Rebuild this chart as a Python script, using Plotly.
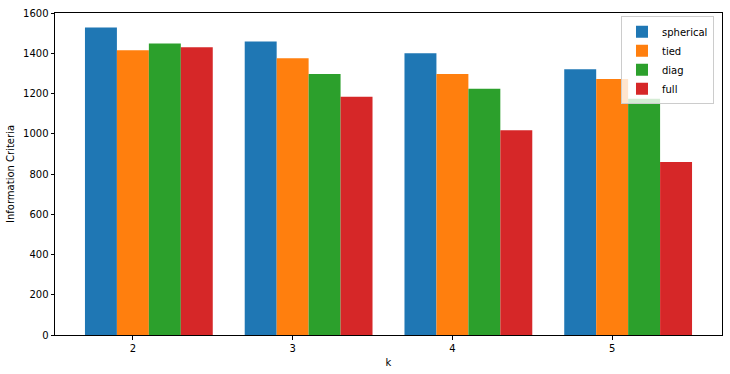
import plotly.graph_objects as go

k_values = [2, 3, 4, 5]
series_names = ["spherical", "tied", "diag", "full"]
spherical = [1528, 1459, 1400, 1321]
tied = [1415, 1375, 1297, 1272]
diag = [1449, 1297, 1223, 1174]
full = [1430, 1184, 1017, 860]
colors = ["#1f77b4", "#ff7f0e", "#2ca02c", "#d62728"]
y_ticks = [0, 200, 400, 600, 800, 1000, 1200, 1400, 1600]

bar_width = 0.2
offsets = [-0.3, -0.1, 0.1, 0.3]

fig = go.Figure()
for name, vals, col, off in zip(series_names, [spherical, tied, diag, full], colors, offsets):
    fig.add_trace(go.Bar(
        x=k_values, y=vals, name=name, width=bar_width, offset=off,
        marker=dict(color=col, line=dict(width=0)),
    ))

font = dict(family="DejaVu Sans", size=10, color="black")
fig.update_layout(
    barmode="overlay",
    width=730, height=374,
    margin=dict(l=55, r=7, t=10, b=38),
    paper_bgcolor="white", plot_bgcolor="white",
    font=font,
    showlegend=True,
    legend=dict(
        x=0.988, y=0.99, xanchor="right", yanchor="top",
        bgcolor="rgba(255,255,255,0.8)", bordercolor="#cccccc", borderwidth=1,
        font=dict(family="DejaVu Sans", size=10, color="black"),
        tracegroupgap=0, itemsizing="constant",
    ),
    xaxis=dict(
        range=[1.5125, 5.6875], tickmode="array", tickvals=k_values,
        ticktext=[str(k) for k in k_values],
        showline=True, linecolor="black", linewidth=1, mirror=True,
        ticks="outside", ticklen=3.5, tickcolor="black", showgrid=False, zeroline=False,
        title=dict(text="k", font=font, standoff=6),
    ),
    yaxis=dict(
        range=[0, 1600], tickmode="array", tickvals=y_ticks,
        showline=True, linecolor="black", linewidth=1, mirror=True,
        ticks="outside", ticklen=3.5, tickcolor="black", showgrid=False, zeroline=False,
        title=dict(text="Information Criteria", font=font, standoff=6),
    ),
)

fig.write_html("out.html", config={"displayModeBar": False},
               post_script="document.body.style.margin='0px';")
